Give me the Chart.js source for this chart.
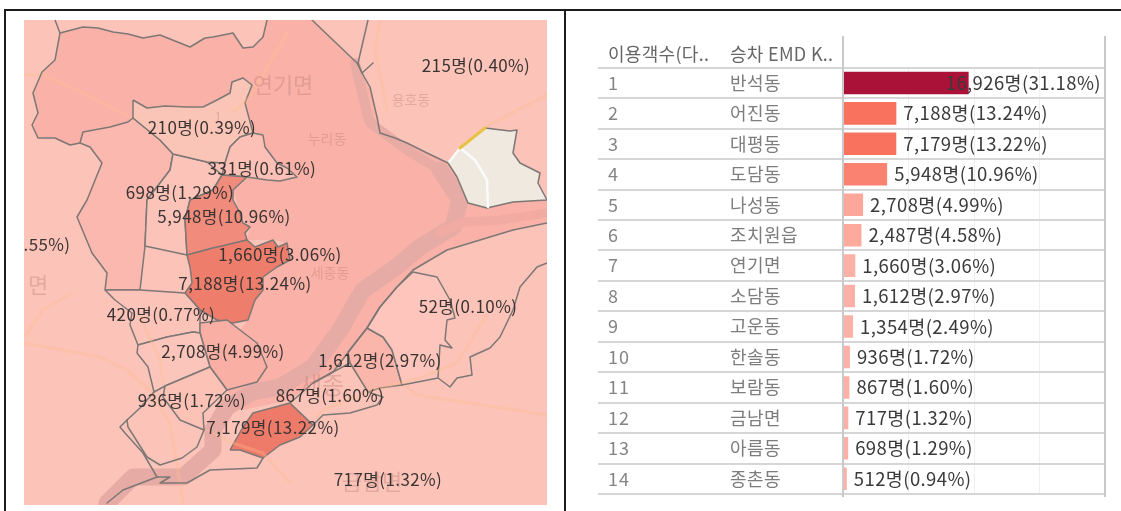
<!DOCTYPE html>
<html><head><meta charset="utf-8">
<script src="https://cdn.jsdelivr.net/npm/chart.js@4"></script>
<style>
html,body{margin:0;padding:0;background:#fff;width:1121px;height:511px;overflow:hidden}
canvas{position:absolute;display:block;filter:blur(0.5px)}
.f{position:absolute;background:#1c1c1c}
</style></head><body>
<div class="f" style="left:4px;top:9px;width:1117px;height:2px"></div>
<div class="f" style="left:4px;top:9px;width:2px;height:502px"></div>
<div class="f" style="left:564px;top:9px;width:2px;height:502px"></div>
<canvas id="map" width="523" height="485" style="left:24px;top:20px"></canvas>
<canvas id="bars" width="531" height="481" style="left:590px;top:30px"></canvas>
<script>
const ranks = [1,2,3,4,5,6,7,8,9,10,11,12,13,14];
const stops = ['반석동','어진동','대평동','도담동','나성동','조치원읍','연기면','소담동','고운동','한솔동','보람동','금남면','아름동','종촌동'];
const riders = [16926,7188,7179,5948,2708,2487,1660,1612,1354,936,867,717,698,512];
const shares = [31.18,13.24,13.22,10.96,4.99,4.58,3.06,2.97,2.49,1.72,1.60,1.32,1.29,0.94];
const barColors = ['#ab1237','#f8725e','#f8725e','#f98370','#fda79a','#fda99c','#fdb0a5','#fdb0a5','#fdb0a5','#fdb0a5','#fdb0a5','#fdb0a5','#fdb0a5','#fdb0a5'];
const headers = ['이용객수(다..','승차 EMD K..'];

const mapLabels = ['215명(0.40%)','210명(0.39%)','331명(0.61%)','698명(1.29%)','5,948명(10.96%)','1,660명(3.06%)','7,188명(13.24%)','420명(0.77%)','52명(0.10%)','2,708명(4.99%)','1,612명(2.97%)','867명(1.60%)','936명(1.72%)','7,179명(13.22%)','717명(1.32%)','.55%)'];
const mapLabelAt = [[476,66],[202,128],[262,169],[180,193],[224,217],[280,255],[245,284],[161,315],[468,307],[223,352],[380,361],[330,396],[192,401],[273,428],[388,480],[47,245]];
const placeNames = ['연기면','용호동','누리동','세종동','세종','금남면','면','1'];
const placeAt = [[283,85],[411,100],[327,139],[330,273],[322,385],[372,482],[38,285],[218,117]];
const placeSize = [22,14,14,14,24,22,22,13];

const pts = a => a.map(p => ({x:p[0],y:p[1]}));
const regionYeongi = [[60,33],[83,27],[98,28],[113,32],[128,34],[143,38],[160,35],[175,41],[190,47],[205,38],[213,37],[233,33],[243,48],[253,47],[263,37],[267,20],[312,20],[357,63],[362,73],[370,87],[377,117],[380,133],[407,143],[427,153],[448,163],[457,177],[468,203],[487,208],[513,202],[547,200],[547,223],[513,230],[480,240],[447,250],[413,270],[397,287],[380,307],[367,328],[350,350],[333,372],[313,383],[290,400],[243,410],[227,390],[257,382],[267,367],[257,343],[240,330],[248,320],[255,300],[263,290],[263,277],[277,267],[290,260],[287,243],[273,240],[247,240],[250,227],[240,213],[233,190],[247,177],[267,180],[280,181],[297,177],[287,168],[277,163],[265,147],[263,135],[253,133],[245,103],[252,85],[243,78],[232,82],[230,93],[217,100],[203,107],[187,107],[147,108],[133,100],[133,118],[128,122],[110,127],[83,132],[80,143],[70,145],[55,138],[38,138],[32,125],[38,113],[33,93],[42,72],[55,60],[60,33]];
const region210 = [[133,100],[147,108],[165,106],[187,107],[203,107],[217,100],[230,93],[232,82],[243,78],[252,85],[245,103],[253,133],[240,137],[230,147],[225,163],[207,162],[173,154],[160,140],[133,118],[133,100]];
const region331 = [[253,133],[263,135],[265,147],[277,163],[287,168],[297,177],[280,181],[267,180],[247,177],[222,175],[225,163],[230,147],[240,137],[253,133]];
const region698 = [[80,143],[83,132],[110,127],[128,122],[133,118],[160,140],[173,154],[170,170],[147,200],[145,246],[140,290],[105,290],[107,273],[92,253],[77,217],[87,200],[102,163],[90,147],[80,143]];
const region512 = [[173,154],[207,162],[222,175],[213,190],[190,200],[185,220],[187,255],[145,246],[147,200],[170,170],[173,154]];
const region5948 = [[222,175],[247,177],[233,190],[233,200],[240,213],[243,223],[250,227],[245,233],[247,240],[220,247],[213,248],[187,255],[185,220],[190,200],[213,190],[222,175]];
const region7188 = [[187,255],[213,248],[247,240],[255,247],[273,240],[278,247],[287,243],[290,260],[277,267],[263,277],[263,290],[255,300],[248,320],[233,323],[217,320],[200,310],[185,293],[192,283],[190,267],[187,255]];
const region7179 = [[230,450],[243,427],[253,413],[290,403],[313,425],[300,437],[280,445],[263,458],[240,450],[230,450]];
const region420 = [[105,290],[140,290],[185,293],[200,310],[200,333],[193,332],[167,337],[138,345],[130,325],[132,313],[115,300],[105,290]];
const region2708 = [[200,323],[227,320],[240,330],[257,343],[267,367],[257,382],[227,390],[210,367],[200,333],[200,323]];
const region936 = [[138,345],[167,337],[193,332],[200,333],[210,367],[165,386],[154,392],[148,367],[137,353],[138,345]];
const region1354 = [[165,386],[210,367],[227,390],[203,413],[204,430],[180,420],[163,397],[165,386]];
const region1612 = [[367,328],[383,337],[392,350],[402,385],[380,388],[368,392],[363,390],[350,363],[348,352],[367,328]];
const region867 = [[333,372],[350,363],[368,392],[383,397],[377,405],[350,413],[323,415],[313,425],[290,403],[313,383],[333,372]];
const regionEast = [[413,272],[437,277],[450,300],[455,318],[447,320],[445,340],[452,348],[440,345],[438,378],[402,385],[392,350],[383,337],[367,328],[380,307],[397,287],[413,272]];
const regionCream = [[448,163],[460,148],[485,128],[510,131],[517,130],[513,153],[520,163],[540,173],[538,183],[547,200],[513,202],[487,208],[468,203],[457,177],[448,163]];
const regionFills = [regionYeongi];
const regionFillColors = ['#fab2a8'];
const regionShapes = [region698,region512,region210,region331,region5948,region7188,region7179,region420,region2708,region936,region1354,region1612,region867,regionEast,regionCream];
const regionColors = ['#fbb8ae','#fcc3b9','#fac5b6','#fcc0b6','#f18b7c','#ee7d6c','#ee7a69','#fcc3b9','#faafa5','#fcc5bb','#fcc2b6','#fbb6ac','#fcc3b9','#fdc5bb','#efe9e0'];

const riverUpper = [[355,63],[367,113],[370,123],[407,150],[440,170]];
const riverMain = [[440,170],[460,200],[453,227],[420,247],[395,268],[363,290],[340,330],[313,367],[280,387],[253,392],[227,407],[213,430],[213,450],[183,477],[133,477],[107,503]];
const riverBranch = [[547,213],[500,220],[465,222],[440,232]];
const roads = [
 [[24,75],[43,75],[77,90],[130,117]],
 [[287,33],[263,75],[250,97],[233,112]],
 [[380,20],[375,50],[387,110]],
 [[547,95],[485,127]],
 [[24,343],[100,357],[127,370],[150,390],[170,423],[180,483],[183,505]],
 [[25,337],[43,310],[72,293]],
 [[140,317],[160,360],[163,383]],
 [[407,387],[417,395],[547,415]],
 [[487,315],[457,363],[420,378],[373,390],[323,410],[317,417]],
 [[207,430],[233,443],[263,453],[290,483]]
];
const borderLines = [
 [[55,20],[60,33],[55,60],[42,72],[33,93],[38,113],[32,125],[38,138],[55,138],[70,145],[80,143]],
 [[60,33],[83,27],[98,28],[113,32],[128,34],[143,38],[160,35],[175,41],[190,47],[205,38],[213,37],[233,33],[243,48],[253,47],[263,37],[267,20]],
 [[312,20],[357,63],[362,73],[370,87],[373,100],[377,117],[380,133],[395,138],[407,143],[427,153],[448,163]],
 [[368,20],[358,63],[362,73],[373,63]],
 [[547,223],[513,230],[480,240],[447,250],[413,270],[397,287],[380,307],[367,328],[350,350],[333,372],[313,383]],
 [[547,263],[537,267],[520,287],[513,310],[500,337],[490,348],[470,357],[472,375],[457,378],[450,387],[438,378]],
 [[127,420],[120,427],[125,433],[143,453],[157,477],[170,477],[160,483],[187,483],[210,470],[257,468],[263,458]],
 [[127,420],[140,408],[154,392]],
 [[204,430],[197,447],[182,458],[160,465],[147,457],[128,427],[127,420]],
 [[107,503],[123,490],[157,477]]
];
const yellowRoad = [[460,148],[485,128]];
const whiteRoad = [[449,162],[460,148],[475,160],[487,180],[488,207]];

const lineSet = (a,color,width) => ({data:pts(a),showLine:true,pointRadius:0,borderColor:color,borderWidth:width,fill:false,borderCapStyle:'round',borderJoinStyle:'round'});
const shapeSet = (a,color,border,width) => ({data:pts(a),showLine:true,pointRadius:0,backgroundColor:color,borderColor:border,borderWidth:width,fill:'shape',borderJoinStyle:'round'});
const BORDER = '#7d7775';
const layers = [];
regionFills.forEach((a,i)=>layers.push(shapeSet(a,regionFillColors[i],'rgba(0,0,0,0)',0)));
layers.push(lineSet(riverUpper,'#e9aca5',10));
layers.push(lineSet(riverMain,'#e6aba5',17));
layers.push(lineSet(riverBranch,'#f1aba2',9));
regionShapes.forEach((a,i)=>layers.push(shapeSet(a,regionColors[i],BORDER,1.5)));
roads.forEach(a=>layers.push(lineSet(a,'rgba(255,190,140,0.35)',3)));
layers.push(lineSet(whiteRoad,'#fbfbfb',2.5));
layers.push(lineSet(yellowRoad,'#e9c245',3));
borderLines.forEach(a=>layers.push(lineSet(a,BORDER,1.5)));
layers.forEach((d,i)=>{d.order=-i;});

const FONT = '"Noto Sans CJK KR","Noto Sans",sans-serif';
const mapText = {id:'mapText',afterDatasetsDraw(c){
  const g=c.ctx,x=c.scales.x,y=c.scales.y;
  g.save();g.textBaseline='middle';g.textAlign='center';
  placeNames.forEach((t,i)=>{g.font=placeSize[i]+'px '+FONT;g.fillStyle='rgba(175,115,110,0.32)';
    g.fillText(t,x.getPixelForValue(placeAt[i][0]),y.getPixelForValue(placeAt[i][1]));});
  g.font='17px '+FONT;g.letterSpacing='0.4px';g.fillStyle='#3a3433';
  mapLabels.forEach((t,i)=>{
    const p=mapLabelAt[i];
    g.fillText(t,x.getPixelForValue(p[0]),y.getPixelForValue(p[1]));});
  g.restore();
}};
new Chart(document.getElementById('map'),{type:'scatter',data:{datasets:layers},plugins:[mapText],
 options:{responsive:false,animation:false,events:[],layout:{padding:0},
  elements:{line:{tension:0}},
  plugins:{legend:{display:false},tooltip:{enabled:false}},
  scales:{x:{type:'linear',display:false,min:24,max:547},y:{type:'linear',display:false,reverse:true,min:20,max:505}}},
 });
document.getElementById('map').style.background='#fcc3b9';

const tableText = {id:'tableText',afterDatasetsDraw(c){
  const g=c.ctx,m=c.getDatasetMeta(0),xs=c.scales.x;
  g.save();g.textBaseline='middle';
  g.strokeStyle='#c9c9c9';g.lineWidth=2;
  [xs.left,xs.right].forEach(v=>{g.beginPath();g.moveTo(v,6);g.lineTo(v,467);g.stroke();});
  g.textAlign='left';
  g.font='18px '+FONT;g.letterSpacing='0.3px';g.fillStyle='#666';
  g.fillText(headers[0],18,24);g.fillText(headers[1],140,24);
  const rightLimit=xs.right-4;
  m.data.forEach((b,i)=>{
    g.font='18px '+FONT;g.letterSpacing='1px';g.fillStyle='#848484';g.fillText(String(ranks[i]),18,b.y);
    g.font='18px '+FONT;g.letterSpacing='0.4px';g.fillStyle='#7d7d7d';g.fillText(stops[i],140,b.y);
    g.font='18.5px '+FONT;g.letterSpacing='0.4px';g.fillStyle='#3a3a3a';
    const t=riders[i].toLocaleString('en-US')+'명('+shares[i].toFixed(2)+'%)';
    g.fillText(t,Math.min(b.x+7,rightLimit-g.measureText(t).width),b.y);
  });
  g.restore();
}};
new Chart(document.getElementById('bars'),{type:'bar',
 data:{labels:stops,datasets:[{data:riders,backgroundColor:barColors,barPercentage:0.74,categoryPercentage:1}]},
 plugins:[tableText],
 options:{indexAxis:'y',responsive:false,animation:false,events:[],
  layout:{padding:{top:37.7,bottom:17,right:16,left:0}},
  plugins:{legend:{display:false},tooltip:{enabled:false}},
  scales:{
   x:{min:0,max:35300,position:'bottom',ticks:{display:false,stepSize:10000},border:{display:false},grid:{color:'#efefef',lineWidth:1,drawTicks:false}},
   y:{ticks:{display:false},border:{display:false},
      grid:{color:'#d6d6d6',lineWidth:2,tickLength:245,offset:true},
      afterFit(s){s.width=253;}}
  }}});
</script>
</body></html>
